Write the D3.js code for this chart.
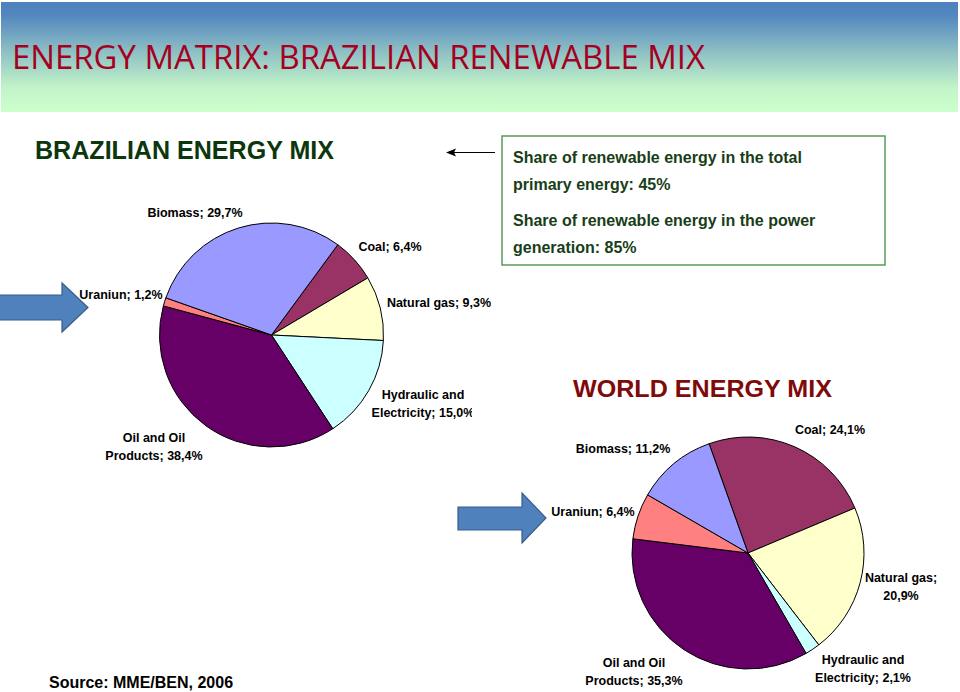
<!DOCTYPE html>
<html>
<head>
<meta charset="utf-8">
<script src="https://cdn.jsdelivr.net/npm/d3@7"></script>
<style>
  html, body { margin: 0; padding: 0; background: #fff; }
  svg { display: block; }
</style>
</head>
<body>
<svg id="chart" width="960" height="692"></svg>
<script>
// ---------- DATA ----------
const categories = ["Coal", "Natural gas", "Hydraulic and Electricity", "Oil and Oil Products", "Uraniun", "Biomass"];
const brazilValues = [6.4, 9.3, 15.0, 38.4, 1.2, 29.7];
const worldValues  = [24.1, 20.9, 2.1, 35.3, 6.4, 11.2];
const brazilLabels = [["Coal; 6,4%"], ["Natural gas; 9,3%"], ["Hydraulic and", "Electricity; 15,0%"], ["Oil and Oil", "Products; 38,4%"], ["Uraniun; 1,2%"], ["Biomass; 29,7%"]];
const worldLabels  = [["Coal; 24,1%"], ["Natural gas;", "20,9%"], ["Hydraulic and", "Electricity; 2,1%"], ["Oil and Oil", "Products; 35,3%"], ["Uraniun; 6,4%"], ["Biomass; 11,2%"]];
const titleText = "ENERGY MATRIX: BRAZILIAN RENEWABLE MIX";
const brazilTitle = "BRAZILIAN ENERGY MIX";
const worldTitle = "WORLD ENERGY MIX";
const boxLines = [["Share of renewable energy in the total", "primary energy: 45%"], ["Share of renewable energy in the power", "generation: 85%"]];
const sourceText = "Source: MME/BEN, 2006";

// ---------- STYLE / LAYOUT ----------
const SANS = "'Liberation Sans', Arial, Helvetica, sans-serif";
const colors = d3.scaleOrdinal().domain(categories)
  .range(["#993366", "#FFFFCC", "#CCFFFF", "#660066", "#FF8080", "#9999FF"]);

const brazilLayout = {
  cx: 271.5, cy: 335, r: 112, start: 36.3,
  labels: [
    {x: 390, y: 251, anchor: "middle"},
    {x: 439, y: 307, anchor: "middle"},
    {x: 423, y: 399, anchor: "middle", clip: 472},
    {x: 154, y: 442, anchor: "middle"},
    {x: 121, y: 299, anchor: "middle"},
    {x: 195, y: 217, anchor: "middle"}
  ]
};
const worldLayout = {
  cx: 748, cy: 553, r: 116, start: -19.6,
  labels: [
    {x: 830, y: 434, anchor: "middle"},
    {x: 901, y: 582, anchor: "middle"},
    {x: 863, y: 664, anchor: "middle"},
    {x: 634, y: 667, anchor: "middle"},
    {x: 593, y: 516, anchor: "middle"},
    {x: 623, y: 453, anchor: "middle"}
  ]
};

const svg = d3.select("#chart");
const defs = svg.append("defs");

// Title bar gradient
const grad = defs.append("linearGradient").attr("id", "titleGrad")
  .attr("x1", 0).attr("y1", 0).attr("x2", 0).attr("y2", 1);
grad.append("stop").attr("offset", "0%").attr("stop-color", "#4E81BD");
grad.append("stop").attr("offset", "12%").attr("stop-color", "#5387BF");
grad.append("stop").attr("offset", "45%").attr("stop-color", "#8DBFC4");
grad.append("stop").attr("offset", "78%").attr("stop-color", "#C2F4C9");
grad.append("stop").attr("offset", "100%").attr("stop-color", "#CCFFCC");

svg.append("rect").attr("x", 1).attr("y", 2).attr("width", 957).attr("height", 110)
  .attr("fill", "url(#titleGrad)");
svg.append("text").attr("x", 12).attr("y", 69)
  .style("font-family", "'Open Sans', 'Noto Sans', sans-serif")
  .style("font-size", "33px").attr("fill", "#A50021")
  .attr("textLength", 693).attr("lengthAdjust", "spacingAndGlyphs")
  .text(titleText);

// Section titles
svg.append("text").attr("x", 35).attr("y", 159)
  .style("font-family", SANS).style("font-size", "25px").style("font-weight", "bold")
  .attr("fill", "#0C360C")
  .attr("textLength", 299).attr("lengthAdjust", "spacingAndGlyphs")
  .text(brazilTitle);
svg.append("text").attr("x", 573).attr("y", 397)
  .style("font-family", SANS).style("font-size", "24px").style("font-weight", "bold")
  .attr("fill", "#7F0A0A")
  .attr("textLength", 259).attr("lengthAdjust", "spacingAndGlyphs")
  .text(worldTitle);

// Info box
svg.append("rect").attr("x", 502).attr("y", 136).attr("width", 383).attr("height", 129)
  .attr("fill", "#fff").attr("stroke", "#5A9A5A").attr("stroke-width", 1.5);
const boxY = [[163, 190], [226, 253]];
boxLines.forEach((para, i) => {
  para.forEach((line, j) => {
    svg.append("text").attr("x", 513).attr("y", boxY[i][j])
      .style("font-family", SANS).style("font-size", "16px").style("font-weight", "bold")
      .attr("fill", "#173E17")
      .text(line);
  });
});

// Thin arrow pointing left
svg.append("line").attr("x1", 452).attr("y1", 152.5).attr("x2", 495).attr("y2", 152.5)
  .attr("stroke", "#000").attr("stroke-width", 1.2);
svg.append("path").attr("d", "M446,152.5 L456,148.5 L454,152.5 L456,156.5 Z").attr("fill", "#000");

// Block arrows
function blockArrow(x0, bodyTop, bodyBot, headX, headTop, headBot, tipX) {
  const tipY = (headTop + headBot) / 2;
  const p = d3.path();
  p.moveTo(x0, bodyTop); p.lineTo(headX, bodyTop); p.lineTo(headX, headTop);
  p.lineTo(tipX, tipY); p.lineTo(headX, headBot); p.lineTo(headX, bodyBot);
  p.lineTo(x0, bodyBot); p.closePath();
  svg.append("path").attr("d", p.toString())
    .attr("fill", "#4F81BD").attr("stroke", "#385D8A").attr("stroke-width", 1.2);
}
blockArrow(-2, 295, 320, 62, 283, 332, 88);
blockArrow(458, 507, 530, 522, 493, 543, 546);

// Pies
function drawPie(values, labels, L, id) {
  const data = categories.map((c, i) => ({cat: c, value: values[i], label: labels[i]}));
  const start = L.start * Math.PI / 180;
  const pie = d3.pie().sort(null).value(d => d.value)
    .startAngle(start).endAngle(start + 2 * Math.PI);
  const arc = d3.arc().innerRadius(0).outerRadius(L.r);
  const g = svg.append("g").attr("transform", `translate(${L.cx},${L.cy})`);
  g.selectAll("path").data(pie(data)).join("path")
    .attr("d", arc)
    .attr("fill", d => colors(d.data.cat))
    .attr("stroke", "#000").attr("stroke-width", 1)
    .attr("stroke-linejoin", "round");

  data.forEach((d, i) => {
    const pos = L.labels[i];
    const t = svg.append("text")
      .attr("x", pos.x).attr("y", pos.y)
      .attr("text-anchor", pos.anchor)
      .style("font-family", SANS).style("font-size", "12.5px").style("font-weight", "bold")
      .attr("fill", "#000");
    if (pos.clip) {
      const cid = id + "clip" + i;
      defs.append("clipPath").attr("id", cid).append("rect")
        .attr("x", 0).attr("y", 0).attr("width", pos.clip).attr("height", 692);
      t.attr("clip-path", `url(#${cid})`);
    }
    d.label.forEach((line, j) => {
      t.append("tspan").attr("x", pos.x).attr("dy", j === 0 ? 0 : 18).text(line);
    });
  });
}
drawPie(brazilValues, brazilLabels, brazilLayout, "br");
drawPie(worldValues, worldLabels, worldLayout, "wd");

// Source
svg.append("text").attr("x", 49).attr("y", 688)
  .style("font-family", SANS).style("font-size", "16px").style("font-weight", "bold")
  .attr("fill", "#000")
  .text(sourceText);
</script>
</body>
</html>
